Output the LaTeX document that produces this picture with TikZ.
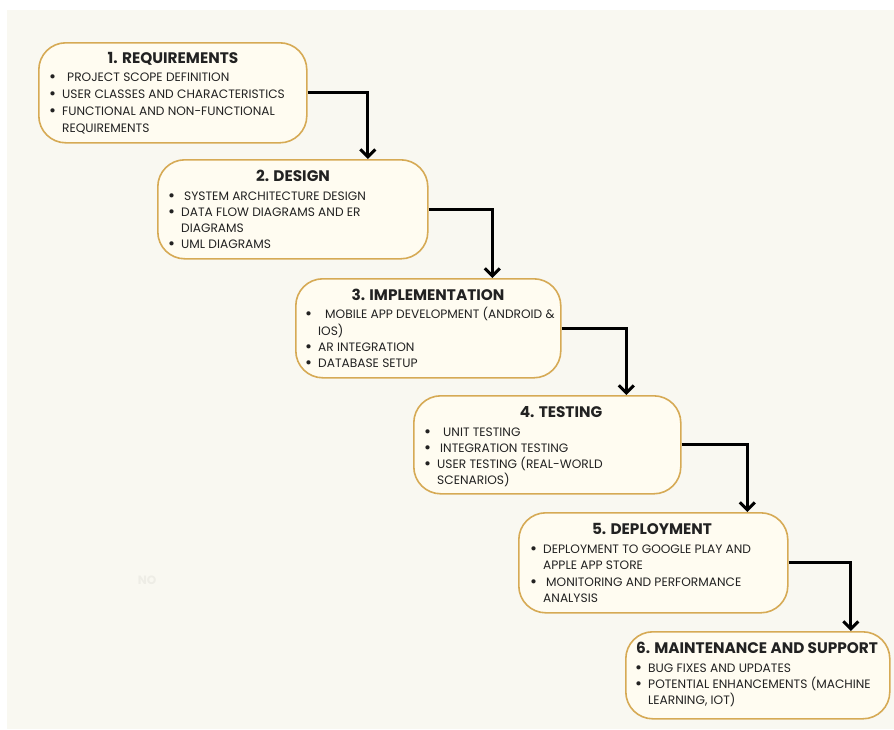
\documentclass[tikz,border=0pt]{standalone}
\usepackage{fontspec}
\setmainfont{Poppins}
\usetikzlibrary{arrows.meta}
\definecolor{pagebg}{HTML}{F9F8F1}
\definecolor{boxfill}{HTML}{FFFCF1}
\definecolor{gold}{HTML}{D6AA55}
\definecolor{ink}{HTML}{222222}
\definecolor{ghost}{HTML}{EEEDE6}
\newcommand\bu{\makebox[13pt][l]{\raisebox{-0.8pt}{\fontsize{17}{17}\selectfont\textbullet}}}
\tikzset{
  stage/.style={draw=gold, line width=1.6pt, fill=boxfill, rounded corners=27pt, anchor=north west, inner sep=0pt},
  ttl/.style={font=\fontsize{15.3}{16}\selectfont\bfseries, text=ink, inner sep=0pt, text height=11pt, text depth=0pt},
  bodytxt/.style={font=\fontsize{12.2}{13}\selectfont, text=ink, inner sep=0pt, anchor=west, text height=8.6pt, text depth=0pt},
  conn/.style={line width=3.2pt, -{Straight Barb[length=7.5pt,width=15pt,line width=3pt]}, black}
}
\begin{document}
\begin{tikzpicture}[x=1pt,y=-1pt]
\useasboundingbox (0,0) rectangle (894,729);
\fill[white] (0,0) rectangle (894,729);
\fill[pagebg] (7,10) rectangle (894,729);
\node[font=\fontsize{12}{12}\selectfont\bfseries, text=ghost] (ghostno) at (147,580) {NO};

% boxes
\node[stage, minimum width=268pt, minimum height=100pt] (b1) at (38,42) {};
\node[stage, minimum width=270pt, minimum height=99pt] (b2) at (157,159) {};
\node[stage, minimum width=265pt, minimum height=99pt] (b3) at (295,278) {};
\node[stage, minimum width=267pt, minimum height=98pt] (b4) at (413,395) {};
\node[stage, minimum width=269pt, minimum height=100pt] (b5) at (518,512) {};
\node[stage, minimum width=264pt, minimum height=87pt] (b6) at (625,631) {};

% connectors
\draw[conn] (b1.east) -| ([xshift=75pt]b2.north);
\draw[conn] (b2.east) -| ([xshift=64pt]b3.north);
\draw[conn] (b3.east) -| ([xshift=79pt]b4.north);
\draw[conn] (b4.east) -| ([xshift=94pt]b5.north);
\draw[conn] (b5.east) -| ([xshift=93pt]b6.north);

% box 1
\node[ttl] (t1) at (173,58) {1. REQUIREMENTS};
\node[bodytxt] (l11) at (49,77) {\bu\hspace{5pt}PROJECT SCOPE DEFINITION};
\node[bodytxt] (l12) at (49,94) {\bu USER CLASSES AND CHARACTERISTICS};
\node[bodytxt] (l13) at (49,111) {\bu FUNCTIONAL AND NON-FUNCTIONAL};
\node[bodytxt] (l14) at (62,128) {REQUIREMENTS};

% box 2
\node[ttl] (t2) at (293,176) {2. DESIGN};
\node[bodytxt] (l21) at (168,196) {\bu\hspace{3pt}SYSTEM ARCHITECTURE DESIGN};
\node[bodytxt] (l22) at (168,212) {\bu DATA FLOW DIAGRAMS AND ER};
\node[bodytxt] (l23) at (181,228) {DIAGRAMS};
\node[bodytxt] (l24) at (168,244) {\bu UML DIAGRAMS};

% box 3
\node[ttl] (t3) at (428,295) {3. IMPLEMENTATION};
\node[bodytxt] (l31) at (305,314) {\bu\hspace{7pt}MOBILE APP DEVELOPMENT (ANDROID \&};
\node[bodytxt] (l32) at (318,331) {IOS)};
\node[bodytxt] (l33) at (305,347) {\bu AR INTEGRATION};
\node[bodytxt] (l34) at (305,363) {\bu DATABASE SETUP};

% box 4
\node[ttl] (t4) at (561,412) {4. TESTING};
\node[bodytxt] (l41) at (424,432) {\bu\hspace{6pt}UNIT TESTING};
\node[bodytxt] (l42) at (424,448) {\bu\hspace{3pt}INTEGRATION TESTING};
\node[bodytxt] (l43) at (424,464) {\bu USER TESTING (REAL-WORLD};
\node[bodytxt] (l44) at (437,480) {SCENARIOS)};

% box 5
\node[ttl] (t5) at (652,529) {5. DEPLOYMENT};
\node[bodytxt] (l51) at (530,549) {\bu DEPLOYMENT TO GOOGLE PLAY AND};
\node[bodytxt] (l52) at (543,565) {APPLE APP STORE};
\node[bodytxt] (l53) at (530,582) {\bu\hspace{3pt}MONITORING AND PERFORMANCE};
\node[bodytxt] (l54) at (543,598) {ANALYSIS};

% box 6
\node[ttl] (t6) at (757,648) {6. MAINTENANCE AND SUPPORT};
\node[bodytxt] (l61) at (635,668) {\bu BUG FIXES AND UPDATES};
\node[bodytxt] (l62) at (635,684) {\bu POTENTIAL ENHANCEMENTS (MACHINE};
\node[bodytxt] (l63) at (648,700) {LEARNING, IOT)};
\end{tikzpicture}
\end{document}
